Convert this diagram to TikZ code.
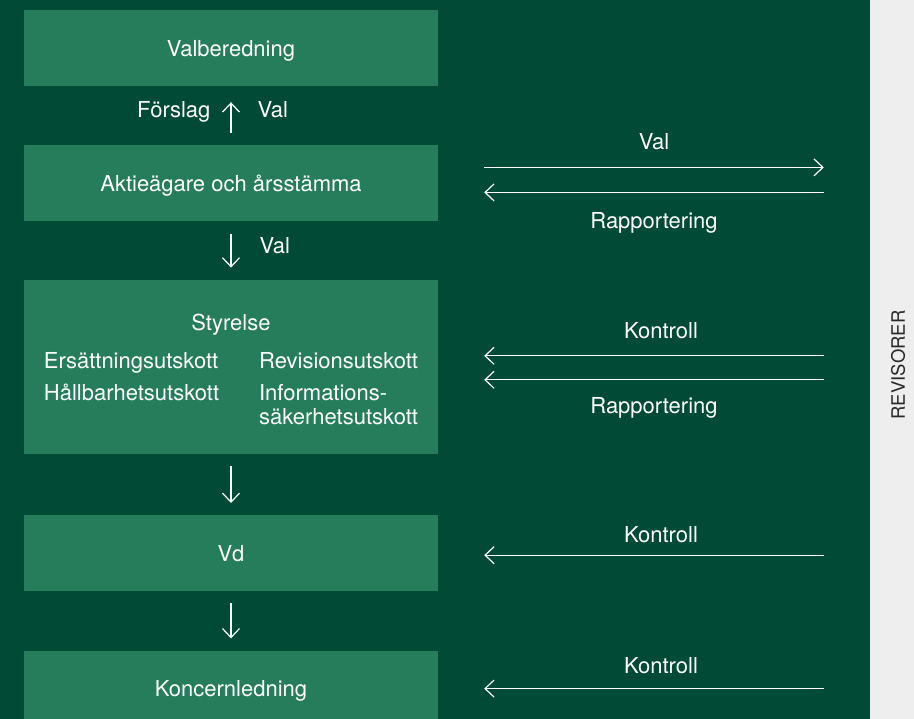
\documentclass[tikz,border=0pt]{standalone}
\usepackage{fontspec}
\setmainfont{TeX Gyre Heros}
\usepackage{tikz}
\usetikzlibrary{shapes,arrows.meta,calc,positioning}
\definecolor{bgdark}{RGB}{0,74,54}
\definecolor{boxgreen}{RGB}{38,125,92}
\definecolor{stripgray}{RGB}{238,238,238}
\definecolor{revtext}{RGB}{40,40,40}
\tikzstyle{line} = [draw, white, line width=1.2pt, -{Straight Barb[length=9pt,width=17pt]}, shorten <=12pt, shorten >=12pt]
\tikzstyle{rline} = [line, shorten <=46pt, shorten >=46pt]
\tikzstyle{block} = [rectangle, fill=boxgreen, text=white, minimum width=414pt, minimum height=76pt, inner sep=0pt, text depth=0pt]
\tikzstyle{lbl} = [text=white, inner sep=0pt, text height=16pt, text depth=5pt]
\tikzstyle{strip} = [rectangle, fill=stripgray, minimum width=44pt, minimum height=719pt, inner sep=0pt]

\begin{document}
\begin{tikzpicture}[x=1pt, y=-1pt, node distance=59pt, font=\fontsize{22}{24}\selectfont]
        \useasboundingbox (0,0) rectangle (914,719);
        \fill[bgdark] (0,0) rectangle (870,719);
        \node[strip] (strip) at (892,359.5) {};
        \node[rotate=90, text=revtext, inner sep=0pt, font=\fontsize{18.5}{20}\selectfont] (rev) at (898,365) {REVISORER};
        \node[block] (val) at (231,48) {Valberedning};
        \node[block, below=of val] (aktie) {Aktieägare och årsstämma};
        \node[block, below=58pt of aktie, minimum height=174pt, text depth=] (styrelse) {%
            \begin{tabular}{@{}l@{\hspace{40pt}}l@{}}
            \multicolumn{2}{c}{\rule{0pt}{27.8pt}Styrelse}\\[14pt]
            Ersättningsutskott & Revisionsutskott\\[8pt]
            Hållbarhetsutskott & Informations-\\
             & säkerhetsutskott
            \end{tabular}};
        \node[block, below=61pt of styrelse] (vd) {Vd};
        \node[block, below=of vd] (koncern) {Koncernledning};
        \path[line, shorten >=16pt] (aktie) -- (val)
            node[lbl, pos=0.57, left=20pt] {Förslag}
            node[lbl, pos=0.57, right=26pt] {Val};
        \path[line] (aktie) -- (styrelse) node[lbl, pos=0.46, right=28pt] {Val};
        \path[line] (styrelse) -- (vd);
        \path[line] (vd) -- (koncern);
        \path[rline] ($(aktie.east)+(0,-16)$) -- ($(aktie.east -| strip.west)+(0,-16)$) node[lbl, midway, above=12.4pt] {Val};
        \path[rline] ($(aktie.east -| strip.west)+(0,9)$) -- ($(aktie.east)+(0,9)$) node[lbl, midway, below=19.3pt] {Rapportering};
        \path[rline] ($(styrelse.east -| strip.west)+(0,-11)$) -- ($(styrelse.east)+(0,-11)$) node[lbl, midway, above=11.7pt, xshift=7pt] {Kontroll};
        \path[rline] ($(styrelse.east -| strip.west)+(0,13)$) -- ($(styrelse.east)+(0,13)$) node[lbl, midway, below=17pt] {Rapportering};
        \path[rline] ($(vd.east -| strip.west)+(0,2)$) -- ($(vd.east)+(0,2)$) node[lbl, midway, above=7.5pt, xshift=7pt] {Kontroll};
        \path[rline] (koncern.east -| strip.west) -- (koncern.east) node[lbl, midway, above=10pt, xshift=7pt] {Kontroll};
    \end{tikzpicture}
\end{document}
